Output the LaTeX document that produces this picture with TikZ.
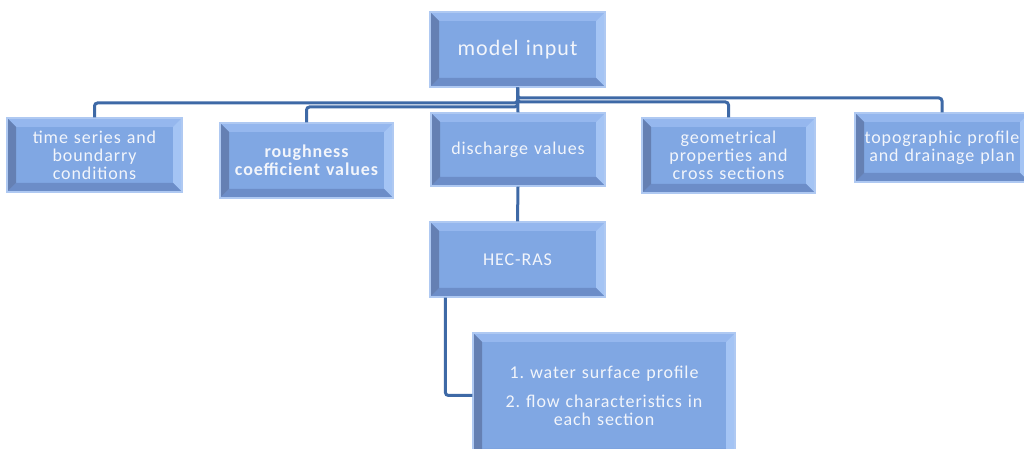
\documentclass[tikz,border=0pt]{standalone}
\usepackage{fontspec}
\setmainfont{Carlito}[LetterSpace=5]
\usetikzlibrary{calc}
\frenchspacing
\definecolor{face}{HTML}{80A7E3}
\definecolor{bevtop}{HTML}{95B7EE}
\definecolor{bevright}{HTML}{A4C4F4}
\definecolor{bevleft}{HTML}{6580B3}
\definecolor{bevbot}{HTML}{6C8DC8}
\definecolor{halo}{HTML}{AFC9F2}
\definecolor{txt}{HTML}{F2F5FB}
\definecolor{link}{HTML}{3E69A6}
\tikzset{
  bevelbox/.style={shape=rectangle, inner xsep=0pt, inner ysep=0pt,
    fill=face, draw=halo, line width=1.2pt, text=txt, align=center,
    font=\fontsize{18}{18}\selectfont,
    path picture={
      \fill[bevtop] (path picture bounding box.north west) -- (path picture bounding box.north east)
        -- ([shift={(-9pt,-9pt)}]path picture bounding box.north east) -- ([shift={(9pt,-9pt)}]path picture bounding box.north west) -- cycle;
      \fill[bevright] (path picture bounding box.north east) -- (path picture bounding box.south east)
        -- ([shift={(-9pt,9pt)}]path picture bounding box.south east) -- ([shift={(-9pt,-9pt)}]path picture bounding box.north east) -- cycle;
      \fill[bevbot] (path picture bounding box.south west) -- (path picture bounding box.south east)
        -- ([shift={(-9pt,9pt)}]path picture bounding box.south east) -- ([shift={(9pt,9pt)}]path picture bounding box.south west) -- cycle;
      \fill[bevleft] (path picture bounding box.north west) -- (path picture bounding box.south west)
        -- ([shift={(9pt,9pt)}]path picture bounding box.south west) -- ([shift={(9pt,-9pt)}]path picture bounding box.north west) -- cycle;
    }},
  connector/.style={draw=link, line width=3pt, rounded corners=3pt}
}
\begin{document}
\begin{tikzpicture}[x=1pt,y=1pt]
\useasboundingbox (0,0) rectangle (1024,449);
\begin{scope}
\clip (0,0) rectangle (1024,449);
% nodes
\node[bevelbox, text width=175pt, minimum height=75pt, font=\fontsize{22}{22}\selectfont] (model) at (517.5,399.5) {model input};
\node[bevelbox, text width=175pt, minimum height=74pt] (time) at (94.5,294) {time series  and\\ boundarry\\ conditions};
\node[bevelbox, text width=173pt, minimum height=75pt, font=\fontsize{18}{18}\selectfont\bfseries] (rough) at (306.5,288.5) {roughness\\ coefficient  values};
\node[bevelbox, text width=174pt, minimum height=73pt] (disch) at (518,299.5) {discharge values};
\node[bevelbox, text width=173pt, minimum height=75pt] (geom) at (728.5,293.5) {geometrical\\ properties and\\ cross sections};
\node[bevelbox, text width=160pt, inner xsep=7pt, minimum height=69pt] (topo) at (942,301.5) {topographic profile\\ and drainage plan};
\node[bevelbox, text width=175pt, minimum height=75pt] (hec) at (517.5,189.5) {HEC-RAS};
\node[bevelbox, text width=262pt, minimum height=125pt] (out) at (604,53.5) {1. water surface profile\\[11pt] 2. flow  characteristics in\\ each  section};
% connector levels
\coordinate (lvtime) at (0,346);
\coordinate (lvrough) at (0,342);
\coordinate (lvgeom) at (0,347);
\coordinate (lvtopo) at (0,351);
\coordinate (hecdrop) at ($(hec.south west)+(16,0)$);
\end{scope}
\draw[connector] (model.south) |- (time.north |- lvtime) -- (time.north);
\draw[connector] (model.south) |- (rough.north |- lvrough) -- (rough.north);
\draw[connector] (model.south) |- (geom.north |- lvgeom) -- (geom.north);
\draw[connector] (model.south) |- (topo.north |- lvtopo) -- (topo.north);
\draw[connector] (model.south) -- (disch.north);
\draw[connector] (disch.south) -- (hec.north);
\draw[connector] (hecdrop) |- (out.west);
\end{tikzpicture}
\end{document}
